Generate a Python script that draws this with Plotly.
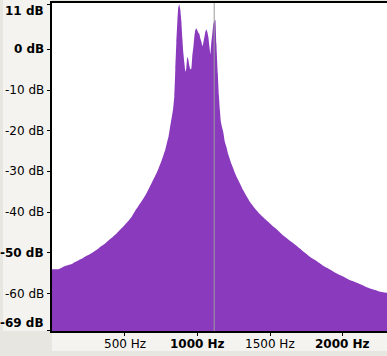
import plotly.graph_objects as go

# Spectrum data (frequency in Hz, level in dB)
freq_hz = [0, 44, 67, 90, 113, 136, 159, 181, 204, 227, 250, 273, 296, 319, 342,
           365, 388, 411, 434, 457, 480, 503, 526, 548, 571, 594, 617, 640, 663,
           686, 709, 732, 755, 778, 789, 801, 812, 824,
           833, 841, 848, 855, 862, 868, 875, 882, 889, 896, 903, 910, 917, 923,
           930, 937, 944, 951, 958, 965, 972, 979, 985, 992, 999, 1006, 1013,
           1020, 1027, 1034, 1040, 1047, 1054, 1061, 1068, 1075, 1082, 1089,
           1095, 1102, 1109, 1116, 1123, 1130,
           1140, 1147, 1154, 1161, 1168, 1177, 1188, 1200, 1211, 1223, 1234, 1246,
           1257, 1269, 1292, 1314, 1337, 1360, 1395, 1429, 1464, 1498, 1532, 1567,
           1601, 1636, 1670, 1704, 1739, 1773, 1808, 1842, 1876, 1911, 1945, 1980,
           2014, 2048, 2083, 2117, 2152, 2186, 2220, 2255, 2303]
level_db = [-54.0, -54.0, -53.65, -53.24, -53.0, -52.75, -52.26, -51.85, -51.44,
            -50.95, -50.54, -50.05, -49.48, -48.9, -48.25, -47.67, -46.94, -46.28,
            -45.55, -44.73, -43.91, -43.0, -42.11, -41.12, -39.73, -38.5, -37.27,
            -35.96, -34.41, -32.77, -31.13, -29.33, -27.2, -24.74, -23.1, -21.47,
            -19.01, -16.55,
            -14.5, -11.5, -4.8, 1.8, 7.0, 10.3, 11.1, 9.8, 7.0, 2.8, -0.9, -3.3,
            -5.5, -4.7, -1.8, -2.5, -3.9, -4.9, -4.7, -1.4, 0.6, 3.3, 4.7, 5.2,
            4.7, 4.1, 3.8, 2.7, 1.9, 0.8, 1.5, 2.9, 4.3, 4.9, 4.3, 3.1, 0.8, -1.2,
            1.6, 3.8, 6.2, 7.0, 7.2, 1.5,
            -5.9, -11.23, -14.91, -17.78, -19.01, -20.24, -22.7, -24.09, -25.72,
            -27.03, -28.18, -29.25, -30.31, -31.29, -32.93, -34.57, -36.04, -37.44,
            -39.07, -40.47, -41.7, -42.76, -43.83, -44.97, -46.04, -47.02, -47.92,
            -48.9, -49.97, -50.95, -51.77, -52.59, -53.41, -54.06, -54.8, -55.45,
            -56.03, -56.68, -57.17, -57.67, -58.24, -58.73, -59.14, -59.55, -59.8]

cursor_hz = 1115

y_tickvals = [11, 0, -10, -20, -30, -40, -50, -60, -69]
y_ticktext = ["11 dB", "0 dB", "-10 dB", "-20 dB", "-30 dB", "-40 dB", "-50 dB", "-60 dB", "-69 dB"]
y_bold = [True, True, False, False, False, False, True, False, True]

x_tickvals = [500, 1000, 1500, 2000]
x_ticktext = ["500 Hz", "1000 Hz", "1500 Hz", "2000 Hz"]
x_bold = [False, True, False, True]

Y_MIN, Y_MAX = -69.2, 11.4
X_MIN, X_MAX = 0, 2303

PURPLE = "#8a3abd"
LIGHT = "#f4f3ef"
DARK = "#e8e6e0"

fig = go.Figure()
# baseline for fill
fig.add_trace(go.Scatter(x=[X_MIN, X_MAX], y=[-100, -100], mode="lines",
                         line=dict(width=0, color=PURPLE), showlegend=False,
                         hoverinfo="skip"))
fig.add_trace(go.Scatter(x=freq_hz, y=level_db, mode="lines",
                         line=dict(width=0, color=PURPLE, shape="spline", smoothing=0.3),
                         fill="tonexty", fillcolor=PURPLE, showlegend=False))
# cursor line
fig.add_trace(go.Scatter(x=[cursor_hz, cursor_hz], y=[-100, 100], mode="lines",
                         line=dict(width=1, color="#9a9a9a"), showlegend=False))

W, H = 387, 356
L, T, B, R = 52, 3, 25, 0
pw, ph = W - L - R, H - T - B

shapes = [
    # left ruler
    dict(type="rect", xref="paper", yref="paper", x0=(3 - L) / pw, x1=0,
         y0=0, y1=(331 - 0) / ph, fillcolor=LIGHT, line=dict(width=0), layer="below"),
    # bottom ruler
    dict(type="rect", xref="paper", yref="paper", x0=0, x1=1,
         y0=-(351 - 331) / ph, y1=0, fillcolor=LIGHT, line=dict(width=0), layer="below"),
]

annotations = []
for v, t, b in zip(y_tickvals, y_ticktext, y_bold):
    yshift = 0
    if v == 11:
        yshift = -6
    if v == -69:
        yshift = 7
    annotations.append(dict(x=0, xref="paper", y=v, yref="y",
                            text=f"<b>{t}</b>" if b else t, showarrow=False,
                            xanchor="right", yanchor="middle", xshift=-6, yshift=yshift,
                            font=dict(family="DejaVu Sans", size=12, color="#000000")))
for v, t, b in zip(x_tickvals, x_ticktext, x_bold):
    annotations.append(dict(x=v, xref="x", y=0, yref="paper",
                            text=f"<b>{t}</b>" if b else t, showarrow=False,
                            xanchor="center", yanchor="middle", yshift=-13,
                            font=dict(family="DejaVu Sans", size=12, color="#000000")))

fig.update_layout(
    width=W, height=H, autosize=False,
    margin=dict(l=L, r=R, t=T, b=B),
    paper_bgcolor=DARK, plot_bgcolor="#ffffff",
    shapes=shapes, annotations=annotations,
    showlegend=False,
    xaxis=dict(range=[X_MIN, X_MAX], tickvals=x_tickvals, ticktext=["" for _ in x_tickvals],
               ticks="outside", ticklen=3, tickcolor="#000000", showgrid=False,
               zeroline=False, showline=True, linecolor="#000000", linewidth=2,
               mirror=True),
    yaxis=dict(range=[Y_MIN, Y_MAX], tickvals=y_tickvals, ticktext=["" for _ in y_tickvals],
               ticks="outside", ticklen=3, tickcolor="#000000", showgrid=False,
               zeroline=False, showline=True, linecolor="#000000", linewidth=2),
)

fig.write_html("out.html", config={"responsive": False, "displayModeBar": False},
               post_script="document.body.style.margin='0px';document.body.style.overflow='hidden';")
